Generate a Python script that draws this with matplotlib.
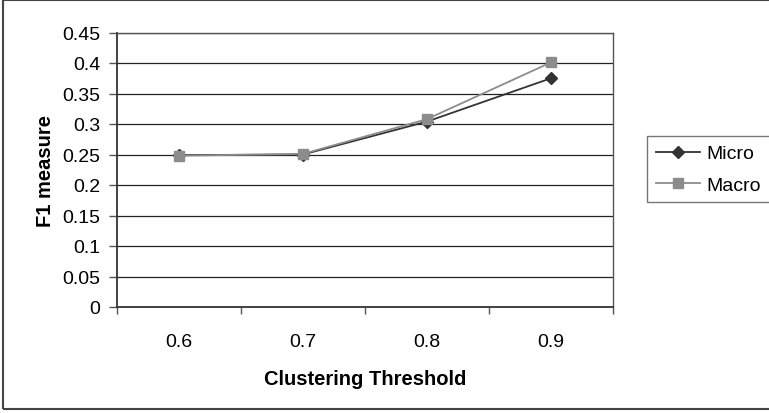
import matplotlib
matplotlib.use("Agg")
import matplotlib.pyplot as plt
from matplotlib.patches import Rectangle

thresholds = ["0.6", "0.7", "0.8", "0.9"]
micro = [0.249, 0.250, 0.304, 0.375]
macro = [0.248, 0.251, 0.308, 0.401]
y_ticks = [0, 0.05, 0.1, 0.15, 0.2, 0.25, 0.3, 0.35, 0.4, 0.45]
y_tick_labels = ["0", "0.05", "0.1", "0.15", "0.2", "0.25", "0.3", "0.35", "0.4", "0.45"]

plt.rcParams["font.family"] = ["Liberation Sans", "DejaVu Sans"]

W, H = 769, 414
fig = plt.figure(figsize=(W / 100, H / 100), dpi=100)
ax = fig.add_axes([117 / W, 1 - 308 / H, (613 - 117) / W, (308 - 33.5) / H])

x = list(range(len(thresholds)))
ax.plot(x, micro, color="#333333", lw=1.3, marker="D", ms=6.5,
        markerfacecolor="#333333", markeredgecolor="#333333", label="Micro", zorder=3)
ax.plot(x, macro, color="#8c8c8c", lw=1.3, marker="s", ms=7,
        markerfacecolor="#8c8c8c", markeredgecolor="#8c8c8c", label="Macro", zorder=4)

ax.set_xlim(-0.5, len(thresholds) - 0.5)
ax.set_ylim(0, 0.45)
ax.set_yticks(y_ticks)
ax.set_yticklabels(y_tick_labels, fontsize=14)

# Category labels sit between the boundary tick marks
ax.set_xticks([i - 0.5 for i in range(len(thresholds) + 1)])
ax.set_xticklabels([])
ax.set_xticks(x, minor=True)
ax.set_xticklabels(thresholds, minor=True, fontsize=14)
ax.tick_params(axis="x", which="minor", length=0, pad=18.5)
ax.tick_params(axis="x", which="major", length=5, color="#555555", width=1)
ax.tick_params(axis="y", length=6, color="#555555", width=1, pad=6)

ax.yaxis.grid(True, color="#222222", lw=0.9)
ax.set_axisbelow(True)
for side in ["left", "bottom"]:
    ax.spines[side].set_color("#333333")
    ax.spines[side].set_linewidth(1.3)
for side in ["right", "top"]:
    ax.spines[side].set_color("#555555")
    ax.spines[side].set_linewidth(1.0)

ax.set_xlabel("Clustering Threshold", fontsize=14.5, fontweight="bold", labelpad=14)
ax.set_ylabel("F1 measure", fontsize=14.5, fontweight="bold", labelpad=5)

leg = fig.legend(loc="upper left", bbox_to_anchor=(647 / W, 1 - 137 / H),
                 frameon=True, fancybox=False, fontsize=14, handlelength=2.3,
                 borderpad=0.45, labelspacing=0.7, handletextpad=0.3,
                 borderaxespad=0)
leg.get_frame().set_edgecolor("#555555")
leg.get_frame().set_linewidth(1.0)

# Outer chart border (its right side runs past the image edge)
fig.patches.append(Rectangle((3 / W, 4 / H), 780 / W, 409 / H,
                             transform=fig.transFigure, fill=False,
                             edgecolor="#444444", lw=1.5, clip_on=False))

fig.savefig("out.png", dpi=100)
